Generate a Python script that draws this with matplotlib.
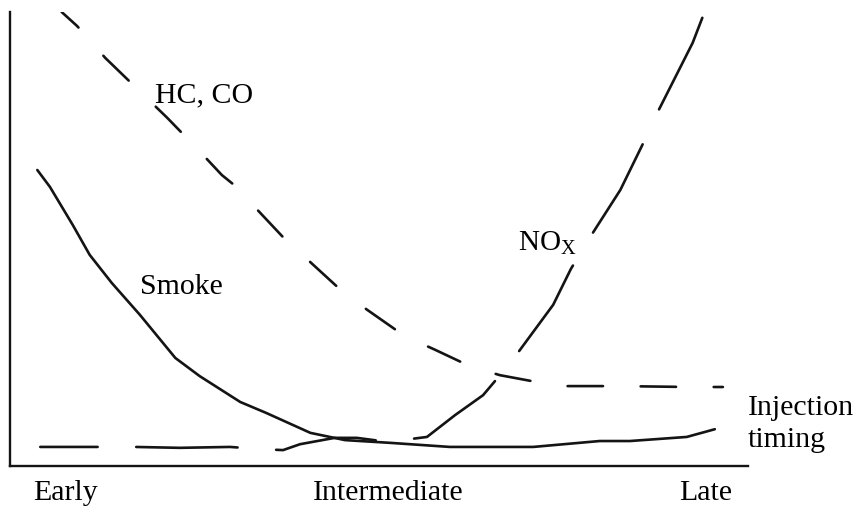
import matplotlib
matplotlib.use("Agg")
import matplotlib.pyplot as plt

plt.rcParams['font.family'] = ['Liberation Serif', 'DejaVu Serif']
plt.rcParams['mathtext.fontset'] = 'custom'
plt.rcParams['mathtext.rm'] = 'Liberation Serif'
plt.rcParams['mathtext.it'] = 'Liberation Serif:italic'
plt.rcParams['lines.scale_dashes'] = False

# relative emission levels (0-100) against injection timing (0 = early, 100 = late)
smoke_x = [3.7, 5.4, 8.5, 10.8, 13.8, 17.6, 22.4, 25.7, 31.2, 34.7, 40.7, 45.4,
           51.5, 59.6, 70.9, 79.9, 84.0, 91.7, 95.5]
smoke_y = [65.2, 61.5, 53.1, 46.5, 40.3, 33.3, 23.8, 19.8, 14.1, 11.7, 7.3, 5.7,
           5.1, 4.2, 4.2, 5.5, 5.5, 6.4, 8.1]

hcco_x = [7.0, 9.1, 12.9, 17.1, 21.3, 25.3, 28.7, 31.2, 32.9, 37.0, 41.1, 45.4,
          48.4, 53.5, 57.6, 62.3, 66.4, 70.7, 74.9, 82.7, 92.1, 96.6]
hcco_y = [100.0, 96.9, 89.9, 83.3, 76.7, 70.0, 64.1, 60.8, 57.5, 50.4, 44.3, 37.9,
          34.4, 28.6, 25.6, 22.0, 20.0, 18.7, 17.6, 17.6, 17.4, 17.4]

nox_x = [4.1, 12.9, 16.9, 23.0, 29.8, 34.1, 37.0, 39.3, 44.0, 47.0, 51.2, 56.5,
         60.3, 64.1, 67.8, 73.6, 76.0, 78.6, 82.7, 85.8, 87.9, 92.5, 93.9]
nox_y = [4.2, 4.2, 4.2, 4.0, 4.2, 3.7, 3.5, 4.8, 6.2, 6.2, 5.3, 6.4,
         11.2, 15.6, 22.7, 35.5, 43.4, 50.4, 60.8, 71.1, 78.4, 93.2, 99.1]

timing_ticks = [7.5, 51.2, 94.3]
timing_labels = ['Early', 'Intermediate', 'Late']

fig = plt.figure(figsize=(8.56, 5.07), dpi=100)
ax = fig.add_axes([10 / 856, 41 / 507, 738 / 856, 454 / 507])

line_kw = dict(color='#141414', lw=1.9, solid_capstyle='round', dash_capstyle='round')
ax.plot(smoke_x, smoke_y, **line_kw)
ax.plot(hcco_x, hcco_y, ls=(9.0, (25.5, 27.1)), **line_kw)
ax.plot(nox_x, nox_y, ls=(31.7, (73.0, 27.8)), **line_kw)

ax.text(26.3, 81.7, 'HC, CO', fontsize=21.5, ha='center', va='center')
ax.text(23.2, 39.4, 'Smoke', fontsize=21.5, ha='center', va='center')
ax.text(68.8, 49.1, r'NO$_\mathrm{X}$', fontsize=21, ha='left', va='center')

ax.set_xlim(0, 100)
ax.set_ylim(0, 100)
ax.set_xticks(timing_ticks)
ax.set_xticklabels(timing_labels, fontsize=21.5)
ax.set_yticks([])
ax.tick_params(axis='x', length=0, pad=10)
for side in ['top', 'right']:
    ax.spines[side].set_visible(False)
for side in ['left', 'bottom']:
    ax.spines[side].set_linewidth(1.7)
    ax.spines[side].set_color('#141414')

fig.text(748 / 856, 1 - 424 / 507, 'Injection\ntiming', fontsize=21.5,
         ha='left', va='center', linespacing=1.28)

fig.savefig('out.png', dpi=100)
